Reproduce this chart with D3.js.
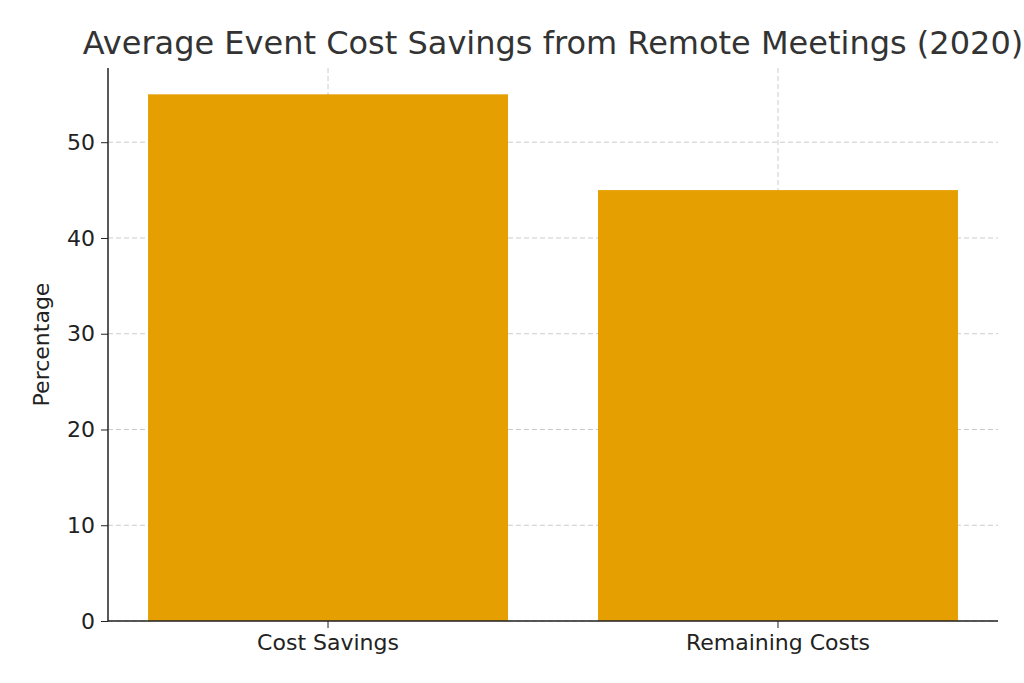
<!DOCTYPE html>
<html><head><meta charset="utf-8">
<script src="https://cdn.jsdelivr.net/npm/d3@7"></script>
<style>body{margin:0;background:#fff;overflow:hidden}</style>
</head><body>
<svg id="chart" width="1024" height="683"></svg>
<script>
const categories = ['Cost Savings', 'Remaining Costs'];
const values = [55, 45];
const yTicks = [0, 10, 20, 30, 40, 50];

const margin = {top: 68, right: 26, bottom: 62, left: 108};
const width = 1024 - margin.left - margin.right;
const height = 683 - margin.top - margin.bottom;
const font = 'DejaVu Sans, sans-serif';

const svg = d3.select('#chart');
const g = svg.append('g').attr('transform', `translate(${margin.left},${margin.top})`);

const x = d3.scaleBand().domain(categories).range([0, width]).paddingInner(0.2).paddingOuter(0.089);
const y = d3.scaleLinear().domain([0, 57.75]).range([height, 0]);

// grid
g.selectAll('.hgrid').data(yTicks).enter().append('line')
    .attr('x1', 0).attr('x2', width)
    .attr('y1', d => y(d)).attr('y2', d => y(d))
    .attr('stroke', '#ccc').attr('stroke-dasharray', '5,3');
g.selectAll('.vgrid').data(categories).enter().append('line')
    .attr('x1', d => x(d) + x.bandwidth() / 2).attr('x2', d => x(d) + x.bandwidth() / 2)
    .attr('y1', 0).attr('y2', height)
    .attr('stroke', '#ccc').attr('stroke-dasharray', '5,3');

// bars
g.selectAll('.bar').data(values).enter().append('rect')
    .attr('x', (d, i) => x(categories[i]))
    .attr('width', x.bandwidth())
    .attr('y', d => y(d))
    .attr('height', d => height - y(d))
    .attr('fill', '#E69F00');

// axes
const yAxis = g.append('g').call(d3.axisLeft(y).tickValues(yTicks).tickSize(7).tickPadding(6));
const xAxis = g.append('g').attr('transform', `translate(0,${height})`)
    .call(d3.axisBottom(x).tickSize(7).tickPadding(6));
[xAxis, yAxis].forEach(a => {
    a.selectAll('text').style('font-family', font).style('font-size', '22px').attr('fill', '#222');
    a.selectAll('line').attr('stroke', '#222');
    a.select('.domain').attr('stroke', '#222').attr('stroke-width', 1.5);
});
xAxis.select('.domain').attr('d', `M0,0H${width}`);
yAxis.select('.domain').attr('d', `M0,${height}V0`);

// labels
svg.append('text')
    .attr('transform', `translate(49,${margin.top + height / 2}) rotate(-90)`)
    .attr('text-anchor', 'middle')
    .style('font-family', font).style('font-size', '22px').attr('fill', '#222')
    .text('Percentage');

svg.append('text')
    .attr('x', 553).attr('y', 54)
    .attr('text-anchor', 'middle')
    .style('font-family', font).style('font-size', '32px').attr('fill', '#333')
    .text('Average Event Cost Savings from Remote Meetings (2020)');
</script>
</body></html>
